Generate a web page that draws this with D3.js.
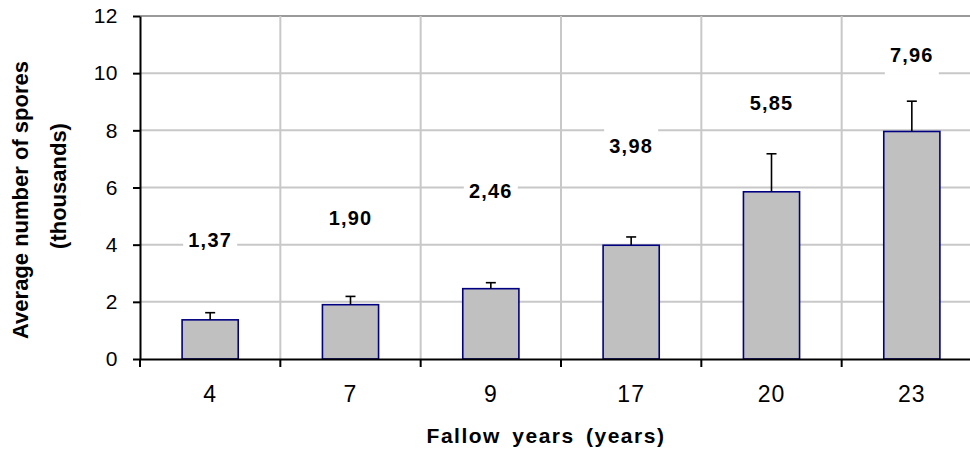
<!DOCTYPE html>
<html>
<head>
<meta charset="utf-8">
<script src="https://cdn.jsdelivr.net/npm/d3@7"></script>
<style>
  html, body { margin: 0; padding: 0; background: #fff; }
  svg { display: block; font-family: "Liberation Sans", Arial, sans-serif; }
</style>
</head>
<body>
<svg id="chart" width="970" height="452"></svg>
<script>
const categories = ["4", "7", "9", "17", "20", "23"];
const values = [1.37, 1.90, 2.46, 3.98, 5.85, 7.96];
const errorsUp = [0.25, 0.29, 0.21, 0.29, 1.33, 1.06];
const valueLabels = ["1,37", "1,90", "2,46", "3,98", "5,85", "7,96"];
const labelLevels = [4.16, 4.93, 5.89, 7.45, 8.96, 10.64];
const yTicks = [0, 2, 4, 6, 8, 10, 12];
const yTitle = ["Average number of spores", "(thousands)"];
const xTitle = "Fallow years (years)";

(function () {
const svg = d3.select("#chart");
const pLeft = 140, pRight = 982, pTop = 16, pBottom = 359;

const x = d3.scaleBand().domain(categories).range([pLeft, pRight]).paddingInner(0).paddingOuter(0);
const y = d3.scaleLinear().domain([0, 12]).range([pBottom, pTop]);
const barW = x.bandwidth() * 0.4;

// gridlines
const grid = svg.append("g");
grid.selectAll("line.h").data(yTicks.filter(d => d > 0)).join("line")
  .attr("x1", pLeft).attr("x2", pRight)
  .attr("y1", d => y(d)).attr("y2", d => y(d))
  .attr("stroke", d => d === 12 ? "#9a9a9a" : "#c8c8c8").attr("stroke-width", 2);
grid.selectAll("line.v").data(categories.slice(1)).join("line")
  .attr("x1", d => x(d)).attr("x2", d => x(d))
  .attr("y1", pTop).attr("y2", pBottom)
  .attr("stroke", "#c8c8c8").attr("stroke-width", 2);

// bars
svg.append("g").selectAll("rect").data(categories).join("rect")
  .attr("x", (d, i) => x(d) + (x.bandwidth() - barW) / 2)
  .attr("y", (d, i) => y(values[i]))
  .attr("width", barW)
  .attr("height", (d, i) => y(0) - y(values[i]))
  .attr("fill", "#c0c0c0")
  .attr("stroke", "#000080")
  .attr("stroke-width", 1.6);

// error bars
const eb = svg.append("g").attr("stroke", "#000").attr("stroke-width", 1.6);
categories.forEach((c, i) => {
  const cx = x(c) + x.bandwidth() / 2;
  eb.append("line").attr("x1", cx).attr("x2", cx)
    .attr("y1", y(values[i])).attr("y2", y(values[i] + errorsUp[i]));
  eb.append("line").attr("x1", cx - 5).attr("x2", cx + 5)
    .attr("y1", y(values[i] + errorsUp[i])).attr("y2", y(values[i] + errorsUp[i]));
});

// value labels with white background
const lab = svg.append("g");
categories.forEach((c, i) => {
  const cx = x(c) + x.bandwidth() / 2;
  const cy = y(labelLevels[i]);
  lab.append("rect").attr("x", cx - 27).attr("y", cy - 20).attr("width", 54).attr("height", 40).attr("fill", "#fff");
  lab.append("text").attr("x", cx).attr("y", cy).attr("dy", "0.36em")
    .attr("text-anchor", "middle").attr("font-weight", "bold").attr("font-size", 20)
    .attr("letter-spacing", 1.2)
    .text(valueLabels[i]);
});

// y axis
const yAxis = svg.append("g").attr("transform", `translate(${pLeft},0)`)
  .call(d3.axisLeft(y).tickValues(yTicks).tickSize(7).tickPadding(15).tickSizeOuter(0));
yAxis.select(".domain").attr("stroke", "#000").attr("stroke-width", 2);
yAxis.selectAll(".tick line").attr("stroke", "#000").attr("stroke-width", 2);
yAxis.selectAll(".tick text").attr("font-size", 21).attr("fill", "#000")
  .attr("letter-spacing", 0.5)
  .attr("font-family", "Liberation Sans, Arial, sans-serif");

// x axis
const xAxis = svg.append("g").attr("transform", `translate(0,${pBottom})`)
  .call(d3.axisBottom(x).tickSize(0).tickPadding(27).tickSizeOuter(0));
xAxis.select(".domain").attr("stroke", "#000").attr("stroke-width", 2);
xAxis.selectAll(".tick text").attr("font-size", 23).attr("fill", "#000")
  .attr("letter-spacing", 1)
  .attr("font-family", "Liberation Sans, Arial, sans-serif");
// boundary ticks
svg.append("g").selectAll("line").data(categories.map(c => x(c)).concat([pRight])).join("line")
  .attr("x1", d => d).attr("x2", d => d)
  .attr("y1", pBottom).attr("y2", pBottom + 8)
  .attr("stroke", "#000").attr("stroke-width", 2);

// axis titles
svg.append("text").attr("x", 546).attr("y", 443)
  .attr("text-anchor", "middle").attr("font-weight", "bold").attr("font-size", 21)
  .attr("letter-spacing", 1.5).attr("word-spacing", 4)
  .text(xTitle);

const yt = svg.append("text").attr("transform", "rotate(-90)")
  .attr("text-anchor", "middle").attr("font-weight", "bold").attr("font-size", 22);
yt.append("tspan").attr("x", -200).attr("y", 28).text(yTitle[0]);
yt.append("tspan").attr("x", -186).attr("y", 66).text(yTitle[1]);
})();
</script>
</body>
</html>
